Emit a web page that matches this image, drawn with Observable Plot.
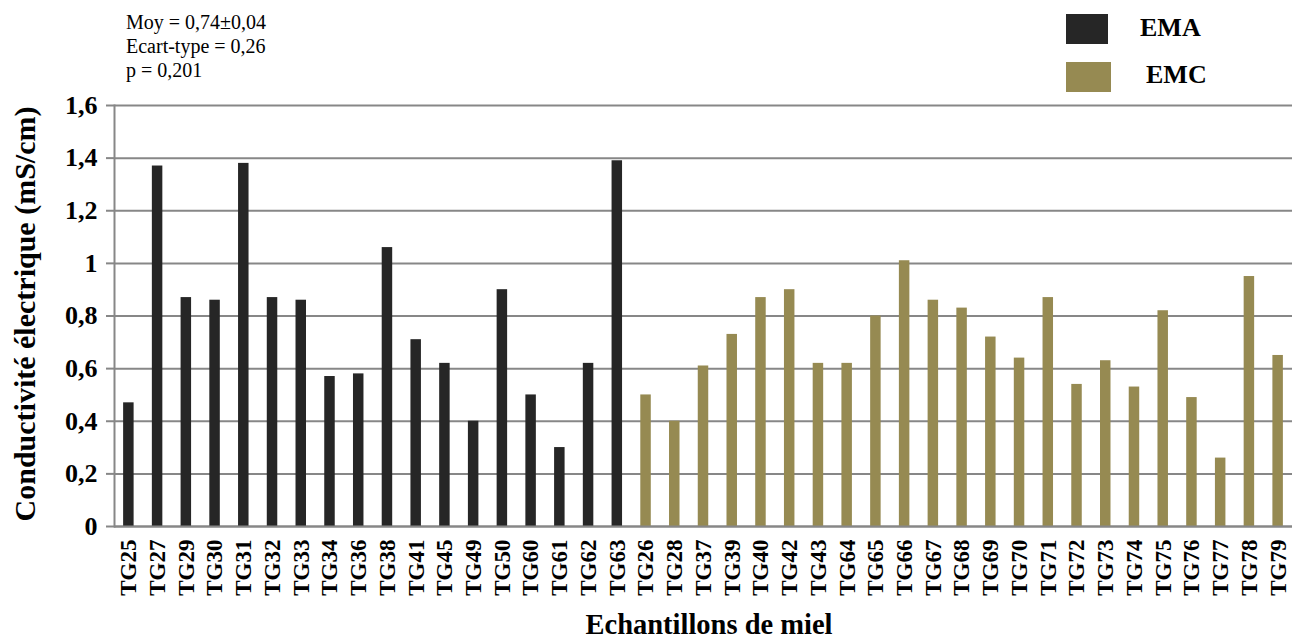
<!DOCTYPE html>
<html>
<head>
<meta charset="utf-8">
<script src="https://cdn.jsdelivr.net/npm/d3@7"></script>
<script src="https://cdn.jsdelivr.net/npm/@observablehq/plot@0.6"></script>
<style>
  html, body { margin: 0; padding: 0; background: #fff; }
  #wrap { position: relative; width: 1293px; height: 639px; font-family: "Liberation Serif", serif; color: #000; overflow: hidden; }
  #wrap div, #chart, #chart text { font-family: "Liberation Serif", serif !important; }
  #chart { position: absolute; left: 0; top: 0; }
  .stats { position: absolute; left: 126px; top: 10px; font-size: 20px; line-height: 24px; }
  .sw { position: absolute; }
  .lg { position: absolute; font-size: 26px; font-weight: bold; line-height: 30px; }
  .ytitle { position: absolute; left: 25px; top: 314px; font-size: 30px; font-weight: bold; white-space: nowrap; line-height: 34px; transform: translate(-50%, -50%) rotate(-90deg); }
  .xtitle { position: absolute; left: 709px; top: 610px; font-size: 28.5px; font-weight: bold; white-space: nowrap; transform: translateX(-50%); line-height: 30px; }
  #chart g[aria-label="y-axis tick label"] text, #chart g[aria-label="x-axis tick label"] text { font-weight: bold; }
</style>
</head>
<body>
<div id="wrap"></div>
<script>
const emaSamples = ["TG25","TG27","TG29","TG30","TG31","TG32","TG33","TG34","TG36","TG38","TG41","TG45","TG49","TG50","TG60","TG61","TG62","TG63"];
const emaValues  = [0.47, 1.37, 0.87, 0.86, 1.38, 0.87, 0.86, 0.57, 0.58, 1.06, 0.71, 0.62, 0.40, 0.90, 0.50, 0.30, 0.62, 1.39];
const emcSamples = ["TG26","TG28","TG37","TG39","TG40","TG42","TG43","TG64","TG65","TG66","TG67","TG68","TG69","TG70","TG71","TG72","TG73","TG74","TG75","TG76","TG77","TG78","TG79"];
const emcValues  = [0.50, 0.40, 0.61, 0.73, 0.87, 0.90, 0.62, 0.62, 0.80, 1.01, 0.86, 0.83, 0.72, 0.64, 0.87, 0.54, 0.63, 0.53, 0.82, 0.49, 0.26, 0.95, 0.65];
const groups = ["EMA", "EMC"];
const groupColors = ["#262626", "#968a52"];
const yTicks = [0, 0.2, 0.4, 0.6, 0.8, 1, 1.2, 1.4, 1.6];
const yTickLabels = ["0", "0,2", "0,4", "0,6", "0,8", "1", "1,2", "1,4", "1,6"];
const statsLines = ["Moy = 0,74±0,04", "Ecart-type = 0,26", "p = 0,201"];
const xTitle = "Echantillons de miel";
const yTitle = "Conductivité électrique (mS/cm)";

const data = [
  ...emaSamples.map((s, i) => ({sample: s, value: emaValues[i], group: groups[0]})),
  ...emcSamples.map((s, i) => ({sample: s, value: emcValues[i], group: groups[1]}))
];

const gridColor = "#878787";
const font = "'Liberation Serif', serif";

const chart = Plot.plot({
  width: 1293,
  height: 639,
  marginTop: 105,
  marginBottom: 113,
  marginLeft: 114,
  marginRight: 1,
  style: {fontFamily: font, background: "transparent", color: "#000"},
  x: {domain: data.map(d => d.sample), paddingInner: 0.635, paddingOuter: 0.3175, round: false, label: null},
  y: {domain: [0, 1.6], label: null},
  color: {domain: groups, range: groupColors},
  marks: [
    Plot.gridY(yTicks, {stroke: gridColor, strokeWidth: 2, strokeOpacity: 1}),
    Plot.barY(data, {x: "sample", y: "value", fill: "group"}),
    Plot.ruleY([0], {stroke: gridColor, strokeWidth: 2}),
    Plot.frame({anchor: "left", stroke: gridColor, strokeWidth: 2}),
    Plot.axisY(yTicks, {
      tickSize: 8, tickPadding: 9, stroke: gridColor, strokeWidth: 2, fill: "#000",
      fontSize: 26, fontWeight: "bold", label: null,
      tickFormat: d => yTickLabels[yTicks.indexOf(d)]
    }),
    Plot.axisX({
      tickSize: 0, tickPadding: 13, tickRotate: -90, fill: "#000",
      fontSize: 23, fontWeight: "bold", label: null
    })
  ]
});
chart.id = "chart";

const wrap = document.getElementById("wrap");
wrap.appendChild(chart);

const stats = document.createElement("div");
stats.className = "stats";
stats.innerHTML = statsLines.map(t => `<div>${t}</div>`).join("");
wrap.appendChild(stats);

const legendPos = [
  {sx: 1066, sy: 14, sw: 42, sh: 30, tx: 1140, ty: 13},
  {sx: 1066, sy: 62, sw: 45, sh: 30, tx: 1146, ty: 60}
];
groups.forEach((g, i) => {
  const p = legendPos[i];
  const sw = document.createElement("div");
  sw.className = "sw";
  Object.assign(sw.style, {left: p.sx + "px", top: p.sy + "px", width: p.sw + "px", height: p.sh + "px", background: groupColors[i]});
  wrap.appendChild(sw);
  const lt = document.createElement("div");
  lt.className = "lg";
  lt.textContent = g;
  Object.assign(lt.style, {left: p.tx + "px", top: p.ty + "px"});
  wrap.appendChild(lt);
});

const yt = document.createElement("div");
yt.className = "ytitle";
yt.textContent = yTitle;
wrap.appendChild(yt);

const xt = document.createElement("div");
xt.className = "xtitle";
xt.textContent = xTitle;
wrap.appendChild(xt);
</script>
</body>
</html>
